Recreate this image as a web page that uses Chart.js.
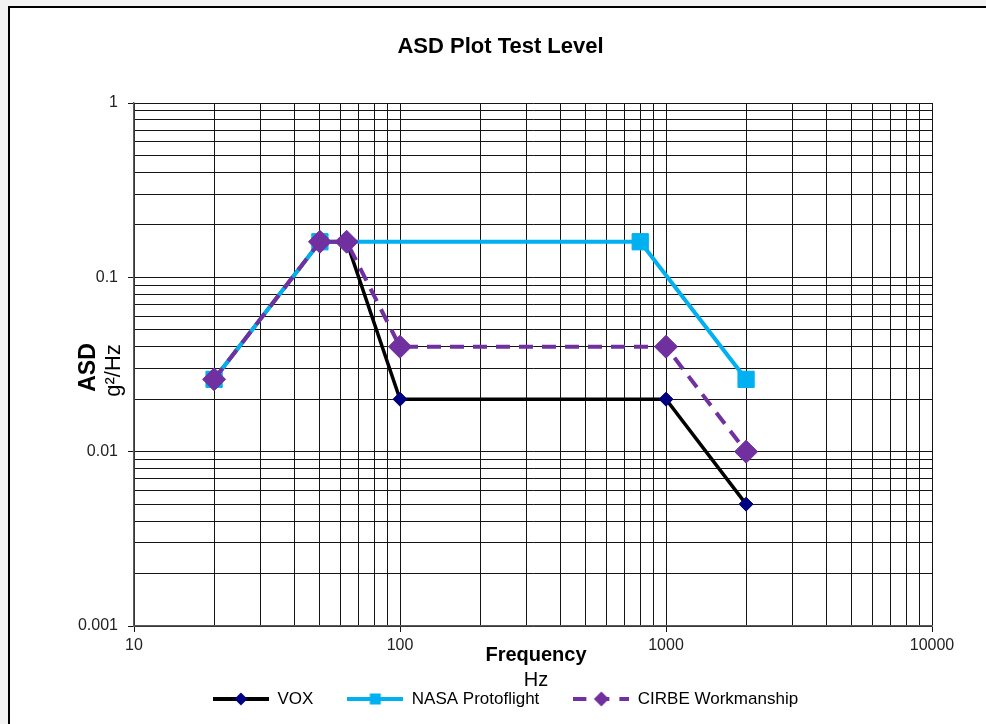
<!DOCTYPE html>
<html><head><meta charset="utf-8">
<script src="https://cdn.jsdelivr.net/npm/chart.js@4/dist/chart.umd.min.js"></script>
<style>html,body{margin:0;padding:0;background:#fff;overflow:hidden}</style>
</head><body>
<canvas id="c" width="986" height="724" style="display:block;width:986px;height:724px"></canvas>
<script>
// ---- data ----
const seriesNames = ['VOX', 'NASA Protoflight', 'CIRBE Workmanship'];
const voxFreq = [20, 50, 63, 100, 1000, 2000];
const voxAsd = [0.026, 0.16, 0.16, 0.02, 0.02, 0.005];
const nasaFreq = [20, 50, 800, 2000];
const nasaAsd = [0.026, 0.16, 0.16, 0.026];
const cirbeFreq = [20, 50, 63, 100, 1000, 2000];
const cirbeAsd = [0.026, 0.16, 0.16, 0.04, 0.04, 0.01];
const xMajorTicks = [10, 100, 1000, 10000];
const yMajorTicks = [0.001, 0.01, 0.1, 1];
const xTickLabels = ['10', '100', '1000', '10000'];
const yTickLabels = ['0.001', '0.01', '0.1', '1'];

const FONT = "'Liberation Sans', Arial, sans-serif";

function withMinors(majors) {
  const out = [];
  for (let i = 0; i < majors.length - 1; i++) {
    for (let k = 1; k <= 9; k++) out.push(Number((majors[i] * k).toPrecision(8)));
  }
  out.push(majors[majors.length - 1]);
  return out;
}
function isMajor(v, majors) { return majors.some(m => Math.abs(v - m) / m < 1e-9); }
function labelFor(v, majors, labels) {
  const i = majors.findIndex(m => Math.abs(v - m) / m < 1e-9);
  return i >= 0 ? labels[i] : '';
}
function pts(f, a) { return f.map((x, i) => ({x: x, y: a[i]})); }

function makeSym(color, lw, dash, shape, r, fill) {
  const c = document.createElement('canvas');
  c.width = 56; c.height = 26;
  const g = c.getContext('2d');
  g.strokeStyle = color; g.lineWidth = lw; g.setLineDash(dash);
  g.beginPath(); g.moveTo(0, 13); g.lineTo(56, 13); g.stroke();
  g.setLineDash([]);
  g.fillStyle = fill;
  g.beginPath();
  if (shape === 'diamond') {
    g.moveTo(28 - r, 13); g.lineTo(28, 13 - r); g.lineTo(28 + r, 13); g.lineTo(28, 13 + r); g.closePath();
  } else {
    g.rect(28 - r, 13 - r, 2 * r, 2 * r);
  }
  g.fill();
  return c;
}
const legendSyms = [
  makeSym('#000000', 4, [], 'diamond', 6.5, '#000080'),
  makeSym('#00B0F0', 4, [], 'square', 5.5, '#00B0F0'),
  makeSym('#7030A0', 4, [13, 10], 'diamond', 7.5, '#7030A0')
];

const bgPlugin = {
  id: 'bg',
  beforeDraw(chart) {
    const ctx = chart.ctx;
    ctx.save();
    ctx.fillStyle = '#f3f3f3';
    ctx.fillRect(0, 0, chart.width, chart.height);
    ctx.fillStyle = '#ffffff';
    ctx.fillRect(9, 7, chart.width - 9, chart.height - 7);
    ctx.strokeStyle = '#000000';
    ctx.lineWidth = 2;
    ctx.beginPath();
    ctx.moveTo(9, chart.height); ctx.lineTo(9, 7); ctx.lineTo(chart.width, 7);
    ctx.stroke();
    ctx.restore();
  }
};

const axisTitlePlugin = {
  id: 'axisTitles',
  afterLayout(chart) {
    if (chart.legend) { chart.legend.left += 5; chart.legend.right += 5; }
  },
  afterDraw(chart) {
    const ctx = chart.ctx;
    const a = chart.chartArea;
    const cy = (a.top + a.bottom) / 2 + 3;
    const cx = (a.left + a.right) / 2 + 3;
    ctx.save();
    ctx.fillStyle = '#000';
    ctx.textAlign = 'center';
    ctx.textBaseline = 'middle';
    ctx.save();
    ctx.translate(89, cy); ctx.rotate(-Math.PI / 2);
    ctx.font = 'bold 23px ' + FONT;
    ctx.fillText('ASD', 0, 0);
    ctx.restore();
    ctx.save();
    ctx.translate(114, cy + 3); ctx.rotate(-Math.PI / 2);
    ctx.font = '22px ' + FONT;
    ctx.fillText('g\u00B2/Hz', 0, 0);
    ctx.restore();
    ctx.font = 'bold 20px ' + FONT;
    ctx.fillText('Frequency', cx, 655);
    ctx.font = '20px ' + FONT;
    ctx.fillText('Hz', cx, 680);
    ctx.restore();
  }
};

const xTicks = withMinors(xMajorTicks);
const yTicks = withMinors(yMajorTicks);
const GRID = '#141414';

new Chart(document.getElementById('c'), {
  type: 'line',
  data: {
    datasets: [
      {
        label: seriesNames[0], data: pts(voxFreq, voxAsd),
        borderColor: '#000000', borderWidth: 3.5,
        pointStyle: 'rectRot', pointRadius: 7, pointBackgroundColor: '#000080', pointBorderColor: '#000080', pointBorderWidth: 1,
        order: 3
      },
      {
        label: seriesNames[1], data: pts(nasaFreq, nasaAsd),
        borderColor: '#00B0F0', borderWidth: 4,
        pointStyle: 'rect', pointRadius: 11.5, pointBackgroundColor: '#00B0F0', pointBorderColor: '#00B0F0', pointBorderWidth: 1,
        order: 2
      },
      {
        label: seriesNames[2], data: pts(cirbeFreq, cirbeAsd),
        borderColor: '#7030A0', borderWidth: 4, borderDash: [14, 9],
        pointStyle: 'rectRot', pointRadius: 11.5, pointBackgroundColor: '#7030A0', pointBorderColor: '#7030A0', pointBorderWidth: 1,
        order: 1
      }
    ]
  },
  options: {
    responsive: false,
    devicePixelRatio: 1,
    animation: false,
    events: [],
    layout: { padding: { left: 15, right: 0, top: 0, bottom: 6.5 } },
    elements: { line: { tension: 0, fill: false } },
    scales: {
      x: {
        type: 'logarithmic', position: 'bottom', min: 10, max: 10000,
        afterBuildTicks: (s) => { s.ticks = xTicks.map(v => ({value: v, major: isMajor(v, xMajorTicks)})); },
        afterFit: (s) => { s.height = 30.5; },
        grid: {
          color: GRID, lineWidth: 1, tickLength: 6,
          tickColor: (c) => (c.tick && isMajor(c.tick.value, xMajorTicks)) ? GRID : 'rgba(0,0,0,0)'
        },
        border: { color: '#5a5a5a', width: 1.5 },
        ticks: {
          autoSkip: false, maxRotation: 0, minRotation: 0, padding: 4,
          font: { family: FONT, size: 16 }, color: '#222',
          callback: (v) => labelFor(v, xMajorTicks, xTickLabels)
        }
      },
      y: {
        type: 'logarithmic', position: 'left', min: 0.001, max: 1,
        afterBuildTicks: (s) => { s.ticks = yTicks.map(v => ({value: v, major: isMajor(v, yMajorTicks)})); },
        afterFit: (s) => { s.width = 119; },
        grid: {
          color: GRID, lineWidth: 1, tickLength: 6,
          tickColor: (c) => (c.tick && isMajor(c.tick.value, yMajorTicks)) ? GRID : 'rgba(0,0,0,0)'
        },
        border: { color: '#5a5a5a', width: 1.5 },
        ticks: {
          autoSkip: false, padding: 10,
          font: { family: FONT, size: 16 }, color: '#222',
          callback: (v) => labelFor(v, yMajorTicks, yTickLabels)
        }
      },
      yR: {
        type: 'linear', position: 'right', display: true,
        grid: { display: false, drawTicks: false }, border: { display: false },
        ticks: { display: false },
        afterFit: (s) => { s.width = 54; }
      }
    },
    plugins: {
      title: {
        display: true, text: 'ASD Plot Test Level', color: '#000',
        font: { family: FONT, size: 22, weight: 'bold', lineHeight: 1.2 },
        padding: { top: 33.8, bottom: 42.8 }
      },
      legend: {
        display: true, position: 'bottom',
        labels: {
          usePointStyle: true, pointStyleWidth: 56, padding: 34,
          font: { family: FONT, size: 17 }, color: '#000',
          generateLabels: (chart) => chart.data.datasets.map((ds, i) => ({
            text: ds.label, pointStyle: legendSyms[i], fillStyle: ds.borderColor,
            strokeStyle: ds.borderColor, lineWidth: 0, hidden: false, datasetIndex: i, fontColor: '#000'
          }))
        }
      },
      tooltip: { enabled: false }
    }
  },
  plugins: [bgPlugin, axisTitlePlugin]
});
</script>
</body></html>
